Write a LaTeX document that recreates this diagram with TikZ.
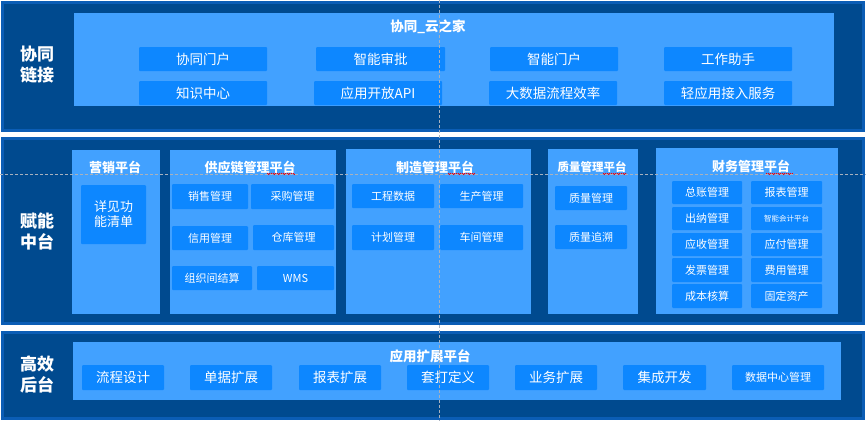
\documentclass[tikz,border=0pt]{standalone}
\usepackage{fontspec}
\setmainfont{Noto Sans CJK SC}
\usetikzlibrary{decorations.pathmorphing}
\definecolor{bandedge}{HTML}{0B5DB5}
\definecolor{bandfill}{HTML}{004A8F}
\definecolor{panelblue}{HTML}{42A1FF}
\definecolor{itemblue}{HTML}{0D87FF}
\definecolor{guidegray}{HTML}{A9B1BD}
\tikzset{
  band/.style={draw=bandedge, line width=3pt, fill=bandfill},
  panel/.style={fill=panelblue},
  item/.style 2 args={fill=itemblue, rounded corners=1pt, inner sep=0pt, outer sep=0pt,
    minimum width=#1, minimum height=#2, text=white, font=\fontsize{11}{13}\selectfont},
  bigitem/.style={font=\fontsize{13.5}{15}\selectfont},
  tag/.style={text=white, align=center, font=\fontsize{17}{21}\selectfont\bfseries},
  heading/.style={text=white, inner sep=0pt, font=\fontsize{13}{15}\selectfont\bfseries},
  guide/.style={guidegray, dash pattern=on 3pt off 2pt, line width=0.8pt},
  squiggle/.style={red, line width=0.5pt, decorate,
    decoration={zigzag, segment length=2pt, amplitude=0.7pt}}
}
\begin{document}
\begin{tikzpicture}[x=1pt, y=-1pt]
\useasboundingbox (0,0) rectangle (866,421);
\fill[white] (0,0) rectangle (866,421);
% bands
\draw[band] (2,2.5) rectangle (863,130);
\draw[band] (2,138.5) rectangle (863,323.5);
\draw[band] (2,332.5) rectangle (863,418.5);
\node[tag] (xtlj) at (37,65) {协同\\链接};
\node[tag] (fnzt) at (37,232) {赋能\\中台};
\node[tag] (gxht) at (37,374) {高效\\后台};
% 协同链接
\fill[panel] (74,13) rectangle (834,106);
\node[heading, font=\fontsize{13.5}{15}\selectfont\bfseries] (yzj) at (428,27) {协同\_云之家};
\node[item={128}{24}, bigitem] (xtmh) at (203,59) {协同门户};
\node[item={129}{24}, bigitem] (znsp) at (380.5,59) {智能审批};
\node[item={128}{24}, bigitem] (znmh) at (554,59) {智能门户};
\node[item={128}{24}, bigitem] (gzzs) at (728,59) {工作助手};
\node[item={128}{24}, bigitem] (zszx) at (203,93) {知识中心};
\node[item={128}{24}, bigitem] (kfapi) at (378,93) {应用开放API};
\node[item={128}{24}, bigitem] (dsj) at (553,93) {大数据流程效率};
\node[item={128}{24}, bigitem] (qyy) at (728,93) {轻应用接入服务};
% 赋能中台
\fill[panel] (72,150) rectangle (160,314);
\fill[panel] (170,150) rectangle (336,314);
\fill[panel] (346,149) rectangle (531,314);
\fill[panel] (548,149) rectangle (638,314);
\fill[panel] (656,148) rectangle (838,314);
\node[heading] (yxpt) at (115,167) {营销平台};
\node[heading] (gylpt) at (250,167) {供应链管理平台};
\node[heading] (zzpt) at (435,167) {制造管理平台};
\node[heading, font=\fontsize{11.5}{14}\selectfont\bfseries] (zlpt) at (592,167) {质量管理平台};
\node[heading] (cwpt) at (751,166) {财务管理平台};
\node[item={65}{59}, align=center, font=\fontsize{13}{15}\selectfont] (xjgn) at (113.5,214.5) {详见功\\能清单};
\node[item={76}{25}] (xsgl) at (210,196.5) {销售管理};
\node[item={83}{25}] (cggl) at (292.5,196.5) {采购管理};
\node[item={76}{24}] (xygl) at (210,238) {信用管理};
\node[item={81}{25}] (ckgl) at (293.5,237.5) {仓库管理};
\node[item={80}{24}] (zzjs) at (212,278) {组织间结算};
\node[item={77}{24}] (wms) at (295.5,278) {WMS};
\node[item={82}{24}] (gcsj) at (393,196) {工程数据};
\node[item={83}{24}] (scgl) at (481.5,196) {生产管理};
\node[item={82}{25}] (jhgl) at (393,237.5) {计划管理};
\node[item={83}{25}] (cjgl) at (481.5,237.5) {车间管理};
\node[item={72}{24}] (zlgl) at (591,198) {质量管理};
\node[item={72}{24}] (zlzs) at (591,237) {质量追溯};
\node[item={70}{23}] (zzgl) at (707,192.5) {总账管理};
\node[item={71}{23}] (bbgl) at (786.5,192.5) {报表管理};
\node[item={70}{23}] (cngl) at (707,218.5) {出纳管理};
\node[item={71}{23}, font=\fontsize{7.5}{9}\selectfont] (znkj) at (786.5,218.5) {智能会计平台};
\node[item={70}{23}] (ysgl) at (707,244.5) {应收管理};
\node[item={71}{23}] (yfgl) at (786.5,244.5) {应付管理};
\node[item={70}{24}] (fpgl) at (707,270) {发票管理};
\node[item={71}{24}] (fygl) at (786.5,270) {费用管理};
\node[item={70}{24}] (cbhs) at (707,296) {成本核算};
\node[item={71}{24}] (gdzc) at (786.5,296) {固定资产};
% 高效后台
\fill[panel] (73,342) rectangle (841,400);
\node[heading, font=\fontsize{13.5}{15}\selectfont\bfseries] (kzpt) at (430,356) {应用扩展平台};
\node[item={82}{25}, bigitem] (lcsj) at (123,377.5) {流程设计};
\node[item={82}{25}, bigitem] (djkz) at (231,377.5) {单据扩展};
\node[item={82}{25}, bigitem] (bbkz) at (340,377.5) {报表扩展};
\node[item={82}{25}, bigitem] (tddy) at (448,377.5) {套打定义};
\node[item={82}{25}, bigitem] (ywkz) at (556,377.5) {业务扩展};
\node[item={83}{25}, bigitem] (jckf) at (664.5,377.5) {集成开发};
\node[item={92}{25}] (sjzx) at (778,377.5) {数据中心管理};
% marks and guides
\draw[squiggle] (267,174) -- (295,174);
\draw[squiggle] (448,174) -- (475,174);
\draw[squiggle] (603,174) -- (627,174);
\draw[squiggle] (766,174) -- (793,174);
\draw[guide] (439,0) -- (439,421);
\draw[guide] (0,174) -- (866,174);
\end{tikzpicture}
\end{document}
